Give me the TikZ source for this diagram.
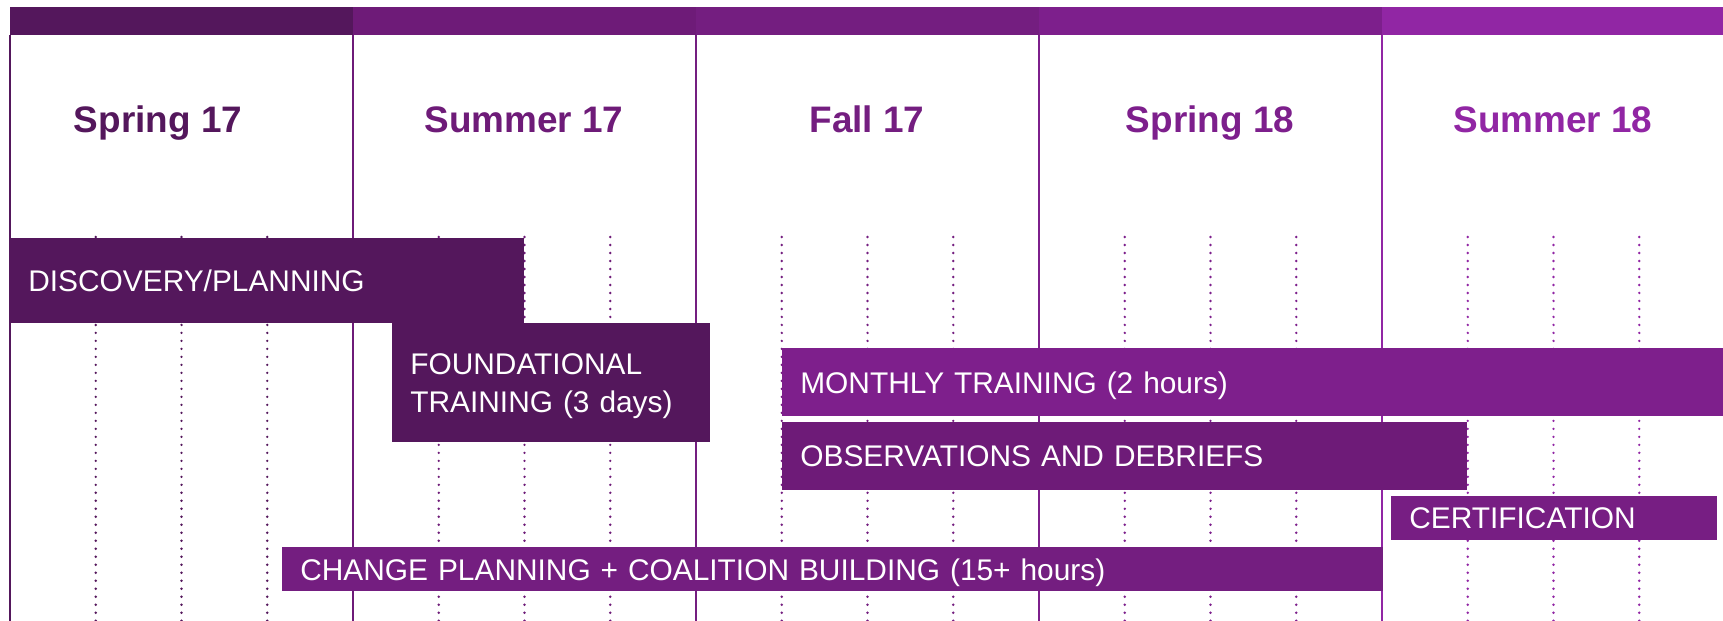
\documentclass[tikz,border=0pt]{standalone}
\usepackage{fontspec}
\setmainfont{Liberation Sans}
\usepackage{tikz}

\definecolor{sprg17}{HTML}{54175C}
\definecolor{summ17}{HTML}{6E1B78}
\definecolor{fall17}{HTML}{741E80}
\definecolor{sprg18}{HTML}{7D1F8C}
\definecolor{summ18}{HTML}{9126A4}
\definecolor{barmonthly}{HTML}{7E1F8C}
\definecolor{barobs}{HTML}{6E1B78}
\definecolor{barcert}{HTML}{771E83}
\definecolor{barchange}{HTML}{741E80}

\begin{document}
\begin{tikzpicture}[x=0.02cm,y=-0.02cm,
      season/.style={anchor=base,font=\fontsize{21pt}{25pt}\bfseries\selectfont},
      bar/.style={anchor=north west,inner xsep=0.36cm,inner ysep=0pt,align=left,
        text depth=0pt,text=white,font=\fontsize{17pt}{21.5pt}\selectfont},
      tickline/.style={line width=1.5pt,line cap=round,dash pattern=on 0pt off 4.55pt},
      sepline/.style={line width=1.1pt}]
    \useasboundingbox (0,0) rectangle (1723,621);
    \fill[white] (0,0) rectangle (1723,621);
    % columns, top band and quarter marks
    \foreach \x/\c in {10/sprg17,353/summ17,696/fall17,1039/sprg18,1382/summ18} {
      \fill[\c] (\x,7) rectangle +(343,28);
      \draw[sepline,\c] (\x,35) -- (\x,621);
      \foreach \q in {1,2,3}
        \draw[tickline,\c] (\x+\q*85.75,237) -- (\x+\q*85.75,621);
    }
    % season titles
    \node[season,text=sprg17] (sp17) at (158,133) {Spring 17};
    \node[season,text=summ17] (su17) at (524,133) {Summer 17};
    \node[season,text=fall17] (fa17) at (867,133) {Fall 17};
    \node[season,text=sprg18] (sp18) at (1210,133) {Spring 18};
    \node[season,text=summ18] (su18) at (1553,133) {Summer 18};
    % activities
    \node[bar,fill=sprg17,text width=9.56cm,minimum height=1.70cm] (discovery)
      at (10,238) {DISCOVERY/PLANNING};
    \node[bar,fill=sprg17,text width=5.64cm,minimum height=2.38cm,text depth=21.5pt] (foundational)
      at (392,323) {FOUNDATIONAL\\TRAINING (3 days)};
    \node[bar,fill=barmonthly,text width=18.10cm,minimum height=1.36cm] (monthly)
      at (782,348) {MONTHLY TRAINING (2 hours)};
    \node[bar,fill=barobs,text width=12.98cm,minimum height=1.36cm] (observations)
      at (782,422) {OBSERVATIONS AND DEBRIEFS};
    \node[bar,fill=barcert,text width=5.80cm,minimum height=0.88cm] (certification)
      at (1391,496) {CERTIFICATION};
    \node[bar,fill=barchange,text width=21.30cm,minimum height=0.88cm] (change)
      at (282,547) {CHANGE PLANNING + COALITION BUILDING (15+ hours)};
  \end{tikzpicture}
\end{document}
